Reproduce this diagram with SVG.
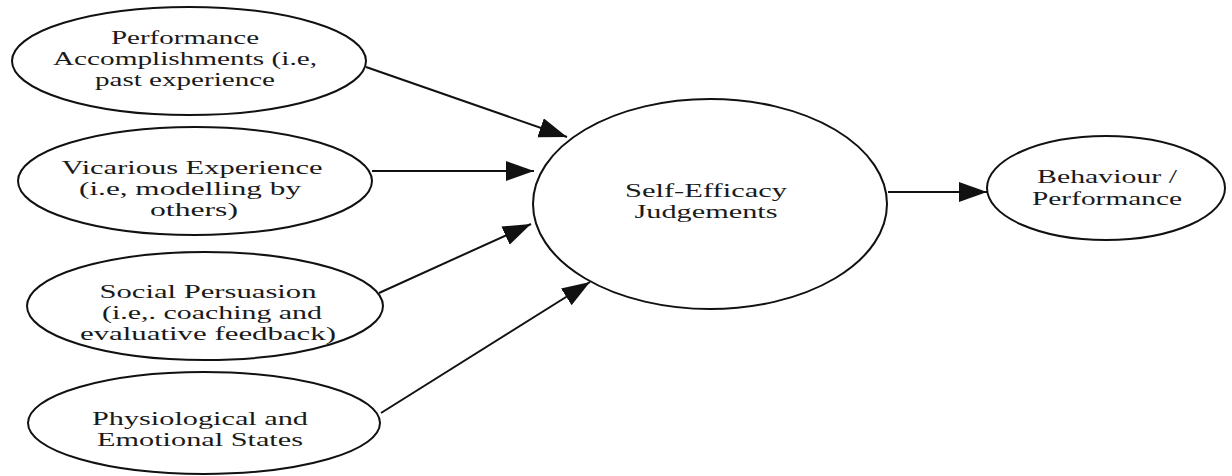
<svg xmlns="http://www.w3.org/2000/svg" width="1232" height="476" viewBox="0 0 1232 476">
<style>
.node ellipse{fill:#fff;stroke:#111;stroke-width:2}
.node text{font-family:"Liberation Serif","Times New Roman",serif;font-size:19px;fill:#1a1a1a;text-anchor:middle}
.edge{stroke:#111;stroke-width:2;fill:none;marker-end:url(#arrow)}
</style>
<defs>
<marker id="arrow" markerUnits="userSpaceOnUse" markerWidth="30" markerHeight="22" refX="28" refY="10" orient="auto">
<path d="M0,0 L28,10 L0,20 z" fill="#111"/>
</marker>
</defs>
<rect width="1232" height="476" fill="#fff"/>
<g id="connectors">
<line class="edge" x1="366" y1="67" x2="567" y2="137"/>
<line class="edge" x1="372" y1="171" x2="534" y2="171"/>
<line class="edge" x1="379" y1="293" x2="531" y2="224"/>
<line class="edge" x1="381" y1="413" x2="590" y2="282"/>
<line class="edge" x1="888" y1="192" x2="987" y2="192"/>
</g>
<g id="node-performance" class="node">
<ellipse cx="189" cy="61" rx="177" ry="54"/>
<text x="185" y="44" textLength="148" lengthAdjust="spacingAndGlyphs">Performance</text>
<text x="185" y="65" textLength="264" lengthAdjust="spacingAndGlyphs">Accomplishments (i.e,</text>
<text x="185" y="86" textLength="180" lengthAdjust="spacingAndGlyphs">past experience</text>
</g>
<g id="node-vicarious" class="node">
<ellipse cx="195" cy="181" rx="177" ry="54"/>
<text x="192" y="174" textLength="261" lengthAdjust="spacingAndGlyphs">Vicarious Experience</text>
<text x="190" y="195" textLength="222" lengthAdjust="spacingAndGlyphs">(i.e, modelling by</text>
<text x="194" y="216" textLength="88" lengthAdjust="spacingAndGlyphs">others)</text>
</g>
<g id="node-social" class="node">
<ellipse cx="205" cy="306" rx="178" ry="54"/>
<text x="208" y="298" textLength="217" lengthAdjust="spacingAndGlyphs">Social Persuasion</text>
<text x="212" y="319" textLength="220" lengthAdjust="spacingAndGlyphs">(i.e,. coaching and</text>
<text x="208" y="340" textLength="256" lengthAdjust="spacingAndGlyphs">evaluative feedback)</text>
</g>
<g id="node-physiological" class="node">
<ellipse cx="204" cy="423" rx="176" ry="51"/>
<text x="200" y="425" textLength="216" lengthAdjust="spacingAndGlyphs">Physiological and</text>
<text x="200" y="446" textLength="206" lengthAdjust="spacingAndGlyphs">Emotional States</text>
</g>
<g id="node-selfefficacy" class="node">
<ellipse cx="710" cy="204" rx="177" ry="105"/>
<text x="706" y="197" textLength="162" lengthAdjust="spacingAndGlyphs">Self-Efficacy</text>
<text x="706" y="218" textLength="143" lengthAdjust="spacingAndGlyphs">Judgements</text>
</g>
<g id="node-behaviour" class="node">
<ellipse cx="1106" cy="188" rx="119" ry="52"/>
<text x="1107" y="183" textLength="140" lengthAdjust="spacingAndGlyphs">Behaviour /</text>
<text x="1107" y="205" textLength="150" lengthAdjust="spacingAndGlyphs">Performance</text>
</g>
</svg>
